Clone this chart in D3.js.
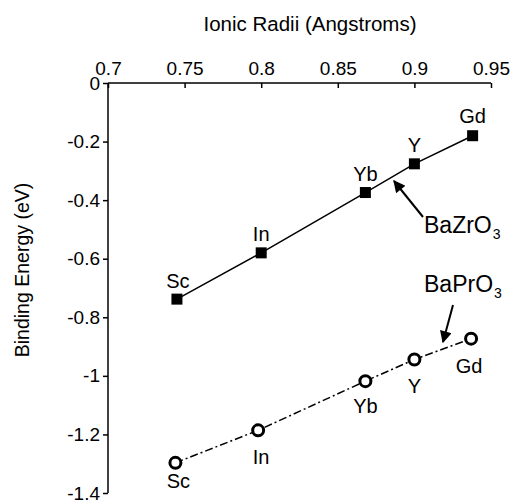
<!DOCTYPE html>
<html>
<head>
<meta charset="utf-8">
<script src="https://cdn.jsdelivr.net/npm/d3@7"></script>
<style>
  body { margin: 0; background: #fff; }
  svg { display: block; font-family: "Liberation Sans", Arial, sans-serif; }
</style>
</head>
<body>
<svg id="chart"></svg>
<script>
// ionic radii (Angstroms) and binding energies (eV)
const dopants = ["Sc", "In", "Yb", "Y", "Gd"];
const radiiZr = [0.745, 0.800, 0.868, 0.900, 0.938];
const energyZr = [-0.738, -0.580, -0.374, -0.276, -0.180];
const radiiPr = [0.744, 0.798, 0.868, 0.900, 0.937];
const energyPr = [-1.297, -1.186, -1.018, -0.944, -0.873];
const xTicks = [0.7, 0.75, 0.8, 0.85, 0.9, 0.95];
const yTicks = [0, -0.2, -0.4, -0.6, -0.8, -1, -1.2, -1.4];

const width = 512, height = 502;
const margin = {top: 83, right: 21, bottom: 9, left: 108};

// label offsets (px) for each series
const zrLabelOff = [[1, -11], [0, -12], [0, -12], [0, -12], [0, -13]];
const prLabelOff = [[3, 25], [3, 34], [0, 32], [0, 34], [-2, 34]];

// plain hyphen minus, as in the figure
const fmt = d => String(+d.toFixed(2));

const svg = d3.select("#chart")
    .attr("width", width)
    .attr("height", height)
    .attr("viewBox", [0, 0, width, height]);

const x = d3.scaleLinear()
    .domain([0.7, 0.95])
    .range([margin.left, width - margin.right]);

const y = d3.scaleLinear()
    .domain([0, -1.4])
    .range([margin.top, height - margin.bottom]);

const xAxis = g => g
    .attr("transform", `translate(0,${margin.top})`)
    .call(d3.axisTop(x).tickValues(xTicks).tickSize(-5).tickPadding(8).tickFormat(fmt))
    .call(g => g.select(".domain").attr("d", `M${margin.left},0H${width - margin.right}`))
    .call(g => g.selectAll("text").attr("font-size", 19).attr("font-family", null))
    .call(g => g.selectAll("line, path").attr("stroke-width", 1.5));

const yAxis = g => g
    .attr("transform", `translate(${margin.left},0)`)
    .call(d3.axisLeft(y).tickValues(yTicks).tickSize(5).tickPadding(3).tickFormat(fmt))
    .call(g => g.select(".domain").attr("d", `M0,${margin.top}V${height - margin.bottom}`))
    .call(g => g.selectAll("text").attr("font-size", 19).attr("font-family", null))
    .call(g => g.selectAll("line, path").attr("stroke-width", 1.5));

svg.append("g").call(xAxis);
svg.append("g").call(yAxis);

svg.append("text")
    .attr("x", 310)
    .attr("y", 31)
    .attr("text-anchor", "middle")
    .attr("font-size", 20.5)
    .text("Ionic Radii (Angstroms)");

svg.append("text")
    .attr("transform", "translate(29,270) rotate(-90)")
    .attr("text-anchor", "middle")
    .attr("font-size", 19.5)
    .text("Binding Energy (eV)");

const zr = dopants.map((d, i) => ({name: d, r: radiiZr[i], e: energyZr[i], off: zrLabelOff[i]}));
const pr = dopants.map((d, i) => ({name: d, r: radiiPr[i], e: energyPr[i], off: prLabelOff[i]}));

const line = d3.line().x(d => x(d.r)).y(d => y(d.e));

svg.append("path")
    .datum(zr)
    .attr("fill", "none")
    .attr("stroke", "#000")
    .attr("stroke-width", 1.5)
    .attr("d", line);

svg.append("path")
    .datum(pr)
    .attr("fill", "none")
    .attr("stroke", "#000")
    .attr("stroke-width", 1.5)
    .attr("stroke-dasharray", "8,3,2,3")
    .attr("d", line);

svg.append("g")
  .selectAll("rect")
  .data(zr)
  .join("rect")
    .attr("x", d => x(d.r) - 5.5)
    .attr("y", d => y(d.e) - 5.5)
    .attr("width", 11)
    .attr("height", 11)
    .attr("fill", "#000");

svg.append("g")
  .selectAll("circle")
  .data(pr)
  .join("circle")
    .attr("cx", d => x(d.r))
    .attr("cy", d => y(d.e))
    .attr("r", 5.5)
    .attr("fill", "#fff")
    .attr("stroke", "#000")
    .attr("stroke-width", 3);

svg.append("g")
    .attr("font-size", 20)
    .attr("text-anchor", "middle")
  .selectAll("text")
  .data(zr.concat(pr))
  .join("text")
    .attr("x", d => x(d.r) + d.off[0])
    .attr("y", d => y(d.e) + d.off[1])
    .text(d => d.name);

// annotations with arrows
svg.append("defs").append("marker")
    .attr("id", "head")
    .attr("viewBox", "0 0 10 10")
    .attr("refX", 9).attr("refY", 5)
    .attr("markerWidth", 7).attr("markerHeight", 6)
    .attr("orient", "auto")
  .append("path")
    .attr("d", "M0,0L10,5L0,10z")
    .attr("fill", "#000");

const notes = [
  {label: "BaZrO", tx: 424, ty: 233, from: [423, 217], to: [394, 181]},
  {label: "BaPrO", tx: 424, ty: 292, from: [453, 305], to: [443, 342]}
];

notes.forEach(n => {
  svg.append("line")
      .attr("x1", n.from[0]).attr("y1", n.from[1])
      .attr("x2", n.to[0]).attr("y2", n.to[1])
      .attr("stroke", "#000")
      .attr("stroke-width", 2)
      .attr("marker-end", "url(#head)");
  const t = svg.append("text")
      .attr("x", n.tx).attr("y", n.ty)
      .attr("font-size", 23)
      .text(n.label);
  t.append("tspan")
      .attr("font-size", 14)
      .attr("dx", 1)
      .attr("dy", 6)
      .text("3");
});
</script>
</body>
</html>
